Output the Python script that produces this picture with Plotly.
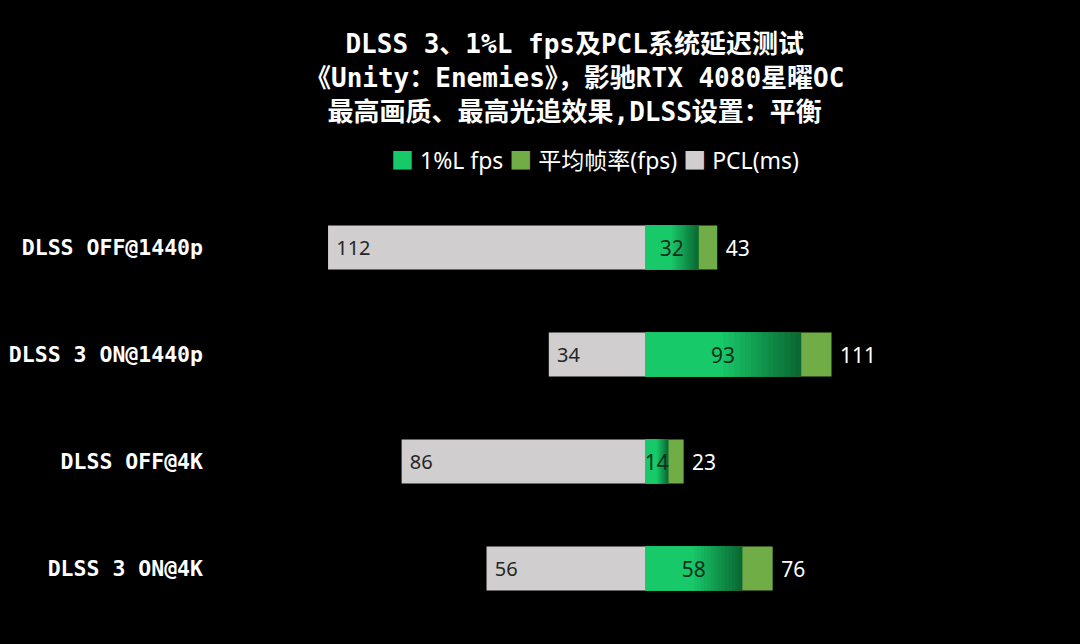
import plotly.graph_objects as go

# chart data
CATEGORIES = ['DLSS OFF@1440p', 'DLSS 3 ON@1440p', 'DLSS OFF@4K', 'DLSS 3 ON@4K']
LOW_FPS = [32, 93, 14, 58]
AVG_FPS = [43, 111, 23, 76]
PCL_MS = [112, 34, 86, 56]

TITLE = ('DLSS 3、1%L fps及PCL系统延迟测试<br>'
         '《Unity：Enemies》，影驰RTX 4080星曜OC<br>'
         '最高画质、最高光追效果,DLSS设置：平衡')

GREEN = '#18C96A'
LIGHT_GREEN = '#70AD47'
GRAY = '#D0CECE'

BAR_W = 0.41
NUM_FONT = 'Noto Sans, Noto Sans CJK SC, sans-serif'
MONO_FONT = 'DejaVu Sans Mono, Noto Sans CJK SC, monospace'
NBSP = '\u00a0'

fig = go.Figure()

# average fps (light green), full length with outside label
fig.add_trace(go.Bar(
    y=CATEGORIES, x=AVG_FPS, orientation='h', width=BAR_W,
    marker=dict(color=LIGHT_GREEN, line=dict(width=0)),
    text=AVG_FPS, texttemplate=NBSP + '%{text}', textposition='outside',
    outsidetextfont=dict(color='white', size=21, family=NUM_FONT),
    cliponaxis=False, hoverinfo='skip'))

# 1%L fps: layered steps to imitate the dark-to-light gradient
steps = 14
dark = (10, 105, 50)
light = (24, 201, 106)
for i in range(steps + 1):
    f = 1.0 - 0.5 * i / steps
    t = i / steps
    c = tuple(round(dark[k] + (light[k] - dark[k]) * t) for k in range(3))
    fig.add_trace(go.Bar(
        y=CATEGORIES, x=[v * f for v in LOW_FPS], orientation='h', width=BAR_W,
        marker=dict(color='rgb(%d,%d,%d)' % c, line=dict(width=0)),
        hoverinfo='skip'))

# transparent top layer carrying the 1%L label
fig.add_trace(go.Bar(
    y=CATEGORIES, x=LOW_FPS, orientation='h', width=BAR_W,
    marker=dict(color='rgba(0,0,0,0)', line=dict(width=0)),
    text=LOW_FPS, textposition='inside', insidetextanchor='middle',
    constraintext='none',
    insidetextfont=dict(color='#10301c', size=21, family=NUM_FONT),
    hoverinfo='skip'))

# PCL on its own reversed axis, growing to the left
fig.add_trace(go.Bar(
    y=CATEGORIES, x=PCL_MS, orientation='h', width=BAR_W, xaxis='x2',
    marker=dict(color=GRAY, line=dict(width=0)),
    text=PCL_MS, texttemplate=NBSP + '%{text}', textposition='inside',
    insidetextanchor='end', constraintext='none',
    insidetextfont=dict(color='#262626', size=20, family=NUM_FONT),
    hoverinfo='skip'))

legend_text = ('<span style="color:%s">■</span> 1%%L fps '
               '<span style="color:%s">■</span> 平均帧率(fps) '
               '<span style="color:%s">■</span> PCL(ms)') % (GREEN, LIGHT_GREEN, GRAY)

fig.update_layout(
    width=1080, height=644,
    paper_bgcolor='black', plot_bgcolor='black',
    barmode='overlay', showlegend=False,
    margin=dict(l=212, r=0, t=194, b=22),
    xaxis=dict(range=[-257.7, 258.9], visible=False, fixedrange=True),
    xaxis2=dict(range=[153.0, -153.7], overlaying='x', visible=False, fixedrange=True),
    yaxis=dict(autorange='reversed', showgrid=False, zeroline=False, showline=False,
               ticks='', ticklabelstandoff=8, fixedrange=True,
               tickfont=dict(family=MONO_FONT, size=21.5, color='white', weight='bold')),
    annotations=[
        dict(text=TITLE, xref='paper', yref='paper', x=0.418, y=1.271,
             xanchor='center', yanchor='middle', showarrow=False,
             font=dict(family=MONO_FONT, size=26, color='white', weight='bold')),
        dict(text=legend_text, xref='paper', yref='paper', x=0.441, y=1.079,
             xanchor='center', yanchor='middle', showarrow=False,
             font=dict(family=NUM_FONT, size=23, color='white')),
    ],
)

fig.write_html('out.html', config={'displayModeBar': False},
               post_script="document.body.style.margin='0';"
                           "document.body.style.background='black';")
